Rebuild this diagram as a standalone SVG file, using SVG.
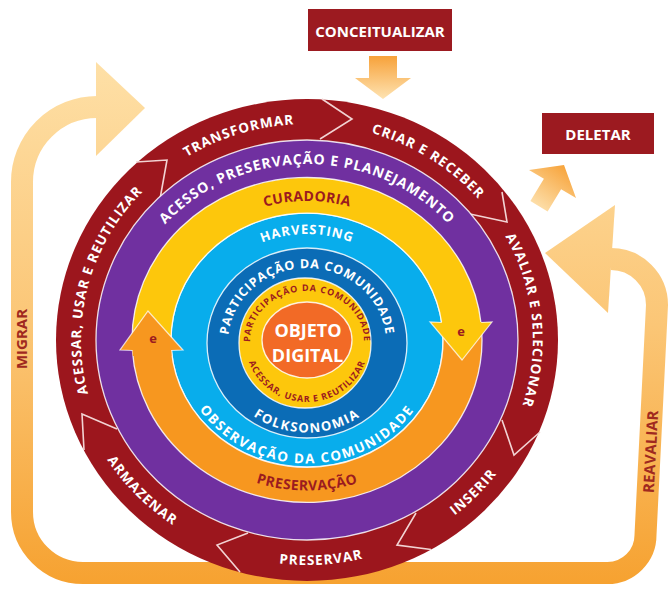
<svg xmlns="http://www.w3.org/2000/svg" width="668" height="594" viewBox="0 0 668 594">
<defs>
<style>
text{font-family:'Open Sans','Liberation Sans',sans-serif;font-weight:700}
.w{fill:#fff}
.r{fill:#9b1b1f}
.o{font-size:13.5px;letter-spacing:1px;text-anchor:middle}
.sep{stroke:#fff;stroke-width:1.3;stroke-opacity:.85}
.chev{fill:none;stroke:#f2d3d3;stroke-width:1.6;stroke-linejoin:miter}
.hd{fill:none;stroke:#fff;stroke-opacity:.75;stroke-width:1.2;stroke-linejoin:miter}
</style>
<linearGradient id="gLoop" gradientUnits="userSpaceOnUse" x1="0" y1="60" x2="0" y2="590">
<stop offset="0" stop-color="#fee0a7"/><stop offset="0.5" stop-color="#fbc676"/><stop offset="1" stop-color="#f6a12f"/>
</linearGradient>
<linearGradient id="gDown" gradientUnits="userSpaceOnUse" x1="0" y1="56" x2="0" y2="99">
<stop offset="0" stop-color="#f7a23a"/><stop offset="1" stop-color="#fee3b2"/>
</linearGradient>
<linearGradient id="gDel" gradientUnits="userSpaceOnUse" x1="566" y1="166" x2="536" y2="208">
<stop offset="0" stop-color="#f7a33a"/><stop offset="1" stop-color="#fde1ae"/>
</linearGradient>
<path id="pRedCW" d="M307,556 A226,216 0 1 1 307,124 A226,216 0 1 1 307,556"/>
<path id="pRedCCW" d="M307,115 A236,225 0 1 0 307,565 A236,225 0 1 0 307,115"/>
<path id="pPurCW" d="M307,516 A188,176 0 1 1 307,164 A188,176 0 1 1 307,516"/>
<path id="pCurCW" d="M307,479 A150,139 0 1 1 307,201 A150,139 0 1 1 307,479"/>
<path id="pPresCCW" d="M307,189.5 A161,150.5 0 1 0 307,490.5 A161,150.5 0 1 0 307,189.5"/>
<path id="pHarvCW" d="M307,446 A114,106 0 1 1 307,234 A114,106 0 1 1 307,446"/>
<path id="pObsCCW" d="M307,216.5 A130,123.5 0 1 0 307,463.5 A130,123.5 0 1 0 307,216.5"/>
<path id="pDbCW" d="M307,418 A79,75 0 1 1 307,268 A79,75 0 1 1 307,418"/>
<path id="pFolkCCW" d="M307,253.5 A93,89.5 0 1 0 307,432.5 A93,89.5 0 1 0 307,253.5"/>
<path id="pInCW" d="M307,391 A57,50 0 1 1 307,291 A57,50 0 1 1 307,391"/>
<path id="pInCCW" d="M307,280 A62,61 0 1 0 307,402 A62,61 0 1 0 307,280"/>
</defs>

<g id="connectors">
<path d="M611,259 A46,46 0 0 1 657,305 L645.5,535 A38,38 0 0 1 607.5,573 L83,573 A61,61 0 0 1 22,512 L22,182 A75,75 0 0 1 97,107" fill="none" stroke="url(#gLoop)" stroke-width="22"/>
<polygon points="96,62 145,108 96,156" fill="url(#gLoop)"/>
<polygon points="615,205 545,253 608,313" fill="url(#gLoop)"/>
<text transform="translate(27,339) rotate(-90)" class="r" style="font-size:15px;text-anchor:middle;fill:#a0291f">MIGRAR</text>
<text transform="translate(656,452) rotate(-87)" class="r" style="font-size:15px;text-anchor:middle;fill:#a0291f">REAVALIAR</text>
<polygon points="369,56 397,56 397,78 411,78 383,99 355,78 369,78" fill="url(#gDown)"/>
<polygon points="564,165 576,198 561.1,189.2 547.6,211.5 530.4,201.1 543.9,178.8 529,170" fill="url(#gDel)"/>
</g>

<g id="conceitualizar">
<rect x="308" y="9" width="144" height="42" fill="#9c1a20"/>
<text x="380" y="36.5" class="w" style="font-size:15px;text-anchor:middle">CONCEITUALIZAR</text>
</g>
<g id="deletar">
<rect x="542" y="113" width="112" height="41" fill="#9c1a20"/>
<text x="598" y="139.5" class="w" style="font-size:15px;text-anchor:middle">DELETAR</text>
</g>

<g id="ring-ciclo">
<ellipse cx="307" cy="340" rx="251" ry="241" fill="#9c161d"/>
<polyline class="chev" points="322,99 352,119 320,139"/>
<polyline class="chev" points="502,192 507,222 470,214"/>
<polyline class="chev" points="540,432 514,455 502,420"/>
<polyline class="chev" points="416,513 397,545 431,549.5"/>
<polyline class="chev" points="248,533 217,545 240,572"/>
<polyline class="chev" points="84,450 82,414 117,429"/>
<polyline class="chev" points="136,162 167,160 160,199"/>
<text class="w o"><textPath href="#pRedCW" startOffset="45%">TRANSFORMAR</textPath></text>
<text class="w o"><textPath href="#pRedCW" startOffset="59.3%">CRIAR E RECEBER</textPath></text>
<text class="w o"><textPath href="#pRedCW" startOffset="73.5%">AVALIAR E SELECIONAR</textPath></text>
<text class="w o"><textPath href="#pRedCW" startOffset="29%">ACESSAR, USAR E REUTILIZAR</textPath></text>
<text class="w o"><textPath href="#pRedCCW" startOffset="37%">ARMAZENAR</textPath></text>
<text class="w o"><textPath href="#pRedCCW" startOffset="51%">PRESERVAR</textPath></text>
<text class="w o"><textPath href="#pRedCCW" startOffset="63%">INSERIR</textPath></text>
</g>

<g id="ring-acesso">
<ellipse cx="307" cy="340" rx="211" ry="200" fill="#7030a0" class="sep"/>
<text class="w" style="font-size:14px;letter-spacing:0.9px;text-anchor:middle"><textPath href="#pPurCW" startOffset="50%">ACESSO, PRESERVAÇÃO E PLANEJAMENTO</textPath></text>
</g>

<g id="ring-harvesting">
<ellipse cx="307" cy="340" rx="136" ry="127" fill="#08adec" class="sep"/>
</g>

<g id="ring-curadoria">
<path d="M132,340 A175,162.5 0 0 1 481.15,324 L441.9,324 A136,127 0 0 0 171,340 Z" fill="#fdc70c" class="sep"/>
<path d="M481.15,324 A175,162.5 0 1 1 132.33,350 L171.42,350 A136,127 0 1 0 441.9,324 Z" fill="#f7971f" class="sep"/>
<text class="r" style="font-size:14px;letter-spacing:0.3px;text-anchor:middle"><textPath href="#pCurCW" startOffset="50%">CURADORIA</textPath></text>
<text class="r" style="font-size:14px;letter-spacing:0.4px;text-anchor:middle"><textPath href="#pPresCCW" startOffset="50%">PRESERVAÇÃO</textPath></text>
</g>

<g id="harvesting-labels">
<text class="w" style="font-size:13px;letter-spacing:1px;text-anchor:middle"><textPath href="#pHarvCW" startOffset="50%">HARVESTING</textPath></text>
<text class="w" style="font-size:13.5px;letter-spacing:1.6px;text-anchor:middle"><textPath href="#pObsCCW" startOffset="50%">OBSERVAÇÃO DA COMUNIDADE</textPath></text>
</g>

<g id="ring-participacao">
<ellipse cx="307" cy="343" rx="100" ry="95" fill="#0b6cb6" class="sep"/>
<text class="w" style="font-size:12.5px;letter-spacing:0.85px;text-anchor:middle"><textPath href="#pDbCW" startOffset="50%">PARTICIPAÇÃO DA COMUNIDADE</textPath></text>
<text class="w" style="font-size:13px;letter-spacing:1.5px;text-anchor:middle"><textPath href="#pFolkCCW" startOffset="50%">FOLKSONOMIA</textPath></text>
</g>

<g id="ring-interno">
<ellipse cx="305" cy="343" rx="66" ry="65" fill="#fdc70c" class="sep"/>
<text class="r" style="font-size:9px;letter-spacing:0.9px;text-anchor:middle"><textPath href="#pInCW" startOffset="50%">PARTICIPAÇÃO DA COMUNIDADE</textPath></text>
<text class="r" style="font-size:9px;letter-spacing:0.8px;text-anchor:middle"><textPath href="#pInCCW" startOffset="50%">ACESSAR, USAR E REUTILIZAR</textPath></text>
</g>

<g id="objeto-digital">
<ellipse cx="307" cy="340" rx="45" ry="38" fill="#f26a26" class="sep"/>
<text x="308" y="337" class="w" style="font-size:18px;text-anchor:middle">OBJETO</text>
<text x="307.5" y="362" class="w" style="font-size:18px;text-anchor:middle">DIGITAL</text>
</g>

<g id="seta-curadoria">
<polygon points="441.9,322 430,322 462,360 492,322 481.2,322" fill="#fdc70c"/>
<polyline class="hd" points="441.9,322.5 430,322 462,360 492,322 481.2,322.5"/>
<text x="461" y="336" class="r" style="font-size:13px;text-anchor:middle">e</text>
</g>
<g id="seta-preservacao">
<polygon points="171.4,356 171.4,350 183,350 148,311 120,350 132.4,350 132.8,356" fill="#f7971f"/>
<polyline class="hd" points="171.4,350.5 183,350 148,311 120,350 132.4,350.5"/>
<text x="153" y="343" class="r" style="font-size:13px;text-anchor:middle">e</text>
</g>
</svg>
